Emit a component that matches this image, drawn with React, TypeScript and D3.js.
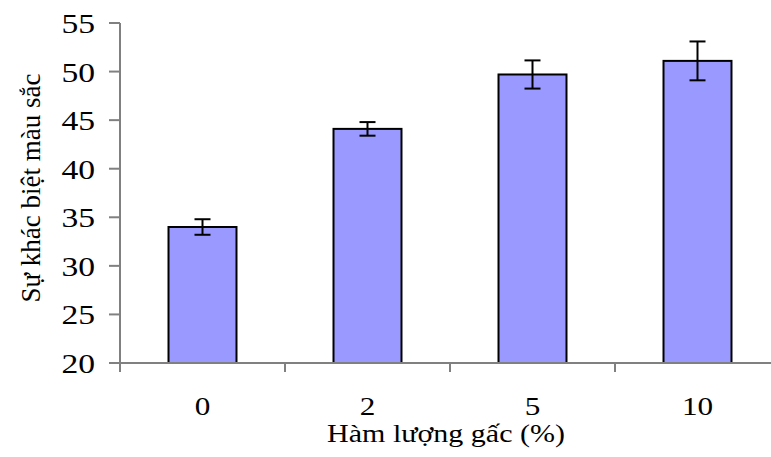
import React, { useEffect, useRef } from 'react';
import * as d3 from 'd3';

const categories = ['0', '2', '5', '10'];
const values = [34.0, 44.1, 49.7, 51.1];
const errors = [0.8, 0.7, 1.45, 2.0];
const yTicks = [20, 25, 30, 35, 40, 45, 50, 55];

const App = () => {
  const ref = useRef<SVGSVGElement>(null);
  const width = 771;
  const height = 457;

  useEffect(() => {
    const svg = d3.select(ref.current);
    svg.selectAll('*').remove();

    const font = '"Liberation Serif", "Times New Roman", serif';
    const sx = 1.2; // the original picture is stretched sideways a bit
    const x = d3.scaleBand().domain(categories).range([120, 780]).paddingInner(0.588).paddingOuter(0.294);
    const y = d3.scaleLinear().domain([20, 55]).range([363, 23]);

    // bars
    svg
      .append('g')
      .selectAll('rect')
      .data(values)
      .enter()
      .append('rect')
      .attr('x', (d, i) => x(categories[i])!)
      .attr('y', (d) => y(d))
      .attr('width', x.bandwidth())
      .attr('height', (d) => y(20) - y(d))
      .attr('fill', '#9999ff')
      .attr('stroke', '#000')
      .attr('stroke-width', 2);

    // axes
    const axisColor = '#808080';
    svg.append('line').attr('x1', 120).attr('x2', 120).attr('y1', y(55)).attr('y2', 372)
      .attr('stroke', axisColor).attr('stroke-width', 2);
    svg.append('line').attr('x1', 109).attr('x2', width).attr('y1', y(20)).attr('y2', y(20))
      .attr('stroke', axisColor).attr('stroke-width', 2);

    const yt = svg.append('g').selectAll('g').data(yTicks).enter().append('g');
    yt.append('line').attr('x1', 109).attr('x2', 120).attr('y1', (d) => y(d)).attr('y2', (d) => y(d))
      .attr('stroke', axisColor).attr('stroke-width', 2);
    yt.append('text')
      .attr('transform', (d) => `translate(95, ${y(d) + 10}) scale(${sx}, 1)`)
      .attr('text-anchor', 'end')
      .attr('font-family', font)
      .attr('font-size', 28)
      .text((d) => d);

    // x ticks at band boundaries
    const bounds = categories.slice(1).map((c) => x(c)! - (x.step() - x.bandwidth()) / 2);
    svg.append('g').selectAll('line').data(bounds).enter().append('line')
      .attr('x1', (d) => d).attr('x2', (d) => d).attr('y1', y(20)).attr('y2', 372)
      .attr('stroke', axisColor).attr('stroke-width', 2);

    svg.append('g').selectAll('text').data(categories).enter().append('text')
      .attr('transform', (d) => `translate(${x(d)! + x.bandwidth() / 2}, 415) scale(${sx}, 1)`)
      .attr('text-anchor', 'middle')
      .attr('font-family', font)
      .attr('font-size', 26)
      .text((d) => d);

    // error bars
    const eb = svg.append('g').selectAll('g').data(values).enter().append('g')
      .attr('stroke', '#000').attr('stroke-width', 2);
    const cx = (i: number) => x(categories[i])! + x.bandwidth() / 2;
    eb.append('line').attr('x1', (d, i) => cx(i)).attr('x2', (d, i) => cx(i))
      .attr('y1', (d, i) => y(d + errors[i])).attr('y2', (d, i) => y(d - errors[i]));
    eb.append('line').attr('x1', (d, i) => cx(i) - 8).attr('x2', (d, i) => cx(i) + 8)
      .attr('y1', (d, i) => y(d + errors[i])).attr('y2', (d, i) => y(d + errors[i]));
    eb.append('line').attr('x1', (d, i) => cx(i) - 8).attr('x2', (d, i) => cx(i) + 8)
      .attr('y1', (d, i) => y(d - errors[i])).attr('y2', (d, i) => y(d - errors[i]));

    // axis titles
    svg.append('text')
      .attr('transform', `translate(446, 442) scale(${sx}, 1)`)
      .attr('text-anchor', 'middle')
      .attr('font-family', font)
      .attr('font-size', 25)
      .text('Hàm lượng gấc (%)');

    svg.append('text')
      .attr('transform', 'translate(40, 188) rotate(-90)')
      .attr('text-anchor', 'middle')
      .attr('font-family', font)
      .attr('font-size', 27)
      .text('Sự khác biệt màu sắc');
  }, []);

  return (
    <svg
      ref={ref}
      width={width}
      height={height}
      style={{ position: 'absolute', left: 0, top: 0, background: '#fff' }}
    />
  );
};

export default App;
